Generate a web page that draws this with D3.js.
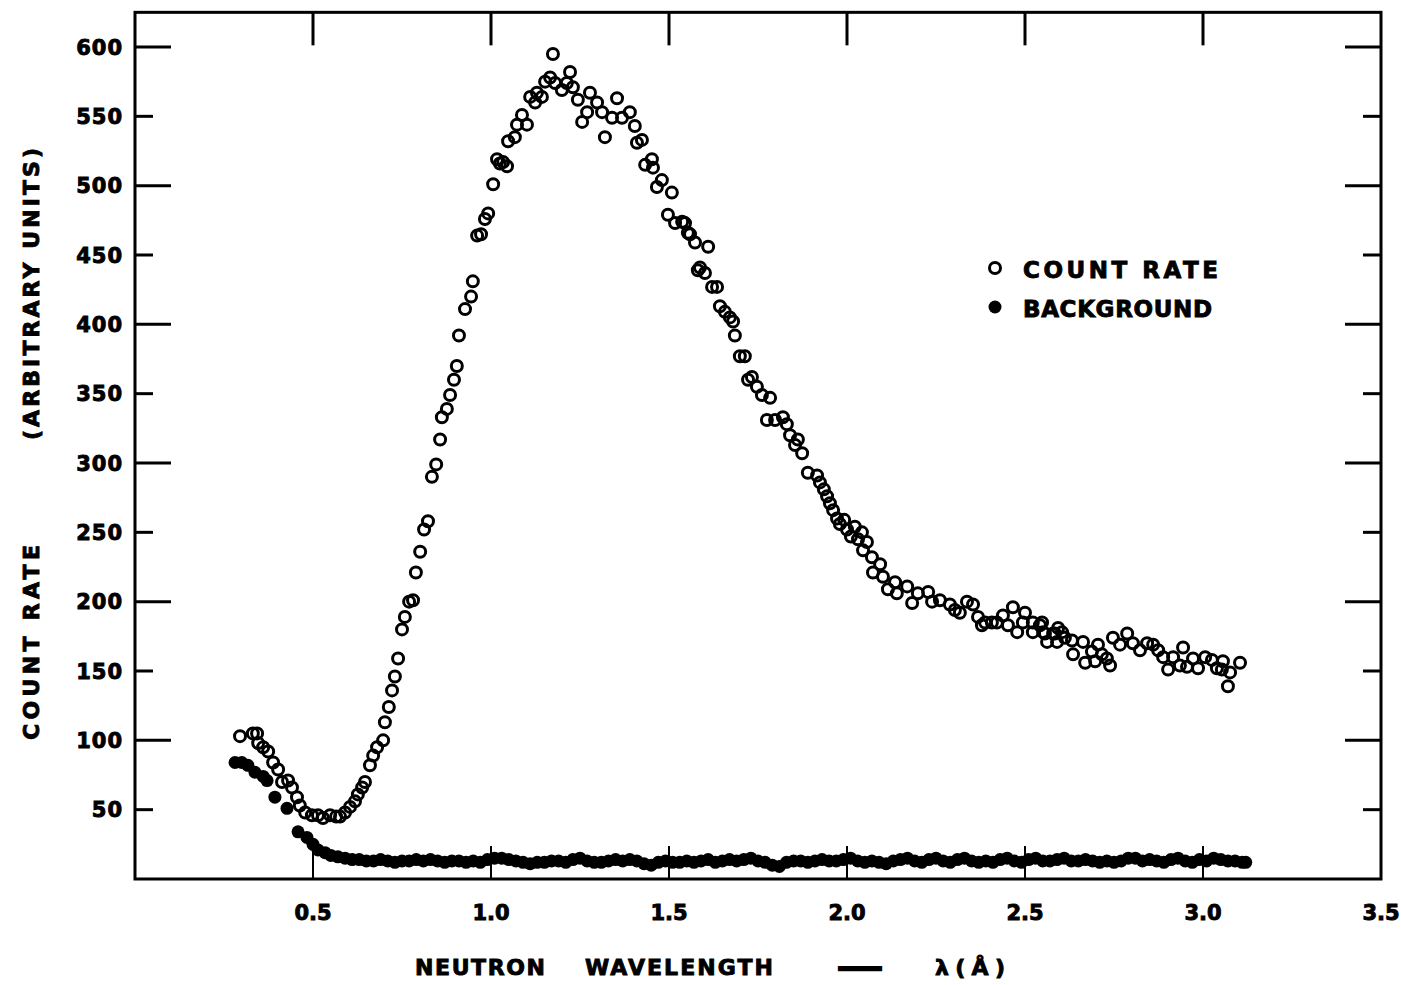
<!DOCTYPE html>
<html>
<head>
<meta charset="utf-8">
<script src="https://cdn.jsdelivr.net/npm/d3@7"></script>
<style>
  body { margin: 0; background: #fff; }
  text { font-family: 'DejaVu Sans', sans-serif; font-weight: bold; fill: #000; stroke: #000; stroke-width: 0.9px; }
</style>
</head>
<body>
<script>
const width = 1401;
const height = 985;

// open circles: [wavelength (A), count rate]
const countRate = [
  [0.295,103],[0.331,105],[0.343,105],[0.346,98],[0.36,95],[0.374,92],[0.388,84],[0.402,79],
  [0.413,70],[0.43,71],[0.441,66],[0.455,59],[0.463,53],[0.478,48],[0.497,46],[0.514,46],
  [0.528,44],[0.548,46],[0.565,45],[0.576,45],[0.59,48],[0.604,52],[0.618,56],[0.626,61],
  [0.638,66],[0.646,70],[0.66,82],[0.669,89],[0.68,95],[0.697,100],[0.702,113],[0.713,124],
  [0.722,136],[0.73,146],[0.739,159],[0.75,180],[0.758,189],[0.77,200],[0.781,201],[0.789,221],
  [0.801,236],[0.812,252],[0.823,258],[0.834,290],[0.846,299],[0.857,317],[0.862,333],[0.876,339],
  [0.885,349],[0.896,360],[0.904,370],[0.91,392],[0.927,411],[0.944,420],[0.949,431],[0.961,464],
  [0.972,465],[0.983,476],[0.992,480],[1.006,501],[1.017,519],[1.025,516],[1.034,517],[1.045,514],
  [1.048,532],[1.067,535],[1.073,544],[1.087,551],[1.101,544],[1.11,564],[1.124,560],[1.129,567],
  [1.143,564],[1.152,575],[1.166,578],[1.174,595],[1.18,574],[1.199,569],[1.213,574],[1.222,582],
  [1.23,571],[1.244,562],[1.256,546],[1.27,553],[1.278,567],[1.298,560],[1.312,553],[1.32,535],
  [1.34,549],[1.354,563],[1.368,549],[1.39,553],[1.404,543],[1.41,531],[1.424,533],[1.433,515],
  [1.452,519],[1.455,513],[1.466,499],[1.48,504],[1.497,479],[1.508,495],[1.517,473],[1.537,474],
  [1.545,473],[1.553,466],[1.559,465],[1.573,459],[1.581,439],[1.587,441],[1.601,437],[1.61,456],
  [1.621,427],[1.635,427],[1.643,413],[1.657,409],[1.671,405],[1.68,402],[1.685,392],[1.699,377],
  [1.713,377],[1.722,360],[1.733,362],[1.747,355],[1.761,349],[1.775,331],[1.784,347],[1.798,331],
  [1.82,333],[1.831,328],[1.84,320],[1.854,313],[1.862,317],[1.874,307],[1.89,293],[1.916,291],
  [1.924,286],[1.935,281],[1.944,276],[1.952,271],[1.961,266],[1.972,260],[1.98,256],[1.992,259],
  [2.0,252],[2.011,247],[2.022,254],[2.031,245],[2.042,250],[2.056,243],[2.045,237],[2.07,232],
  [2.093,227],[2.073,221],[2.101,218],[2.115,209],[2.135,214],[2.14,206],[2.169,211],[2.183,199],
  [2.199,206],[2.228,207],[2.239,200],[2.261,201],[2.289,198],[2.303,194],[2.317,192],[2.337,200],
  [2.354,198],[2.368,189],[2.388,185],[2.379,183],[2.407,185],[2.421,185],[2.438,190],[2.452,183],
  [2.466,196],[2.478,178],[2.5,192],[2.494,185],[2.522,185],[2.542,183],[2.522,178],[2.548,185],
  [2.551,178],[2.556,177],[2.562,171],[2.579,177],[2.584,177],[2.59,171],[2.593,181],[2.604,178],
  [2.612,174],[2.632,172],[2.635,162],[2.663,171],[2.669,156],[2.688,164],[2.697,157],[2.705,169],
  [2.716,162],[2.73,159],[2.739,154],[2.747,174],[2.767,169],[2.787,177],[2.803,170],[2.823,165],
  [2.843,170],[2.86,169],[2.874,165],[2.888,160],[2.902,151],[2.916,160],[2.935,154],[2.944,167],
  [2.955,153],[2.972,159],[2.986,152],[3.006,160],[3.025,158],[3.039,152],[3.053,151],[3.056,157],
  [3.07,139],[3.076,149],[3.104,156]
];

// filled circles: [wavelength (A), background]
const background = [
  [0.281,84],[0.3,84],[0.317,82],[0.337,77],[0.36,74],[0.371,71],[0.393,59],[0.427,51],
  [0.458,34],[0.483,30],[0.5,25],[0.514,21],[0.534,19],[0.55,17],[0.57,16],[0.59,15],
  [0.61,14],[0.63,14],[0.65,13],[0.67,13],[0.69,14],[0.71,13],[0.73,12],[0.75,13],
  [0.77,13],[0.79,14],[0.81,13],[0.83,14],[0.85,13],[0.87,12],[0.89,13],[0.91,13],
  [0.93,12],[0.95,13],[0.97,12],[0.99,14],[1.01,15],[1.03,15],[1.05,14],[1.07,13],
  [1.09,12],[1.11,11],[1.13,12],[1.15,12],[1.17,13],[1.19,13],[1.21,12],[1.23,14],
  [1.25,15],[1.27,13],[1.29,12],[1.31,12],[1.33,13],[1.35,14],[1.37,13],[1.39,14],
  [1.41,13],[1.43,11],[1.45,10],[1.47,12],[1.49,13],[1.51,12],[1.53,12],[1.55,13],
  [1.57,12],[1.59,13],[1.61,14],[1.63,12],[1.65,13],[1.67,14],[1.69,13],[1.71,14],
  [1.73,15],[1.75,13],[1.77,12],[1.79,10],[1.81,9],[1.83,12],[1.85,13],[1.87,13],
  [1.89,12],[1.91,13],[1.93,14],[1.95,13],[1.97,13],[1.99,14],[2.01,15],[2.03,13],
  [2.05,12],[2.07,13],[2.09,12],[2.11,11],[2.13,13],[2.15,14],[2.17,15],[2.19,13],
  [2.21,12],[2.23,14],[2.25,15],[2.27,13],[2.29,12],[2.31,14],[2.33,15],[2.35,13],
  [2.37,12],[2.39,13],[2.41,12],[2.43,14],[2.45,15],[2.47,13],[2.49,12],[2.51,14],
  [2.53,15],[2.55,13],[2.57,13],[2.59,14],[2.61,15],[2.63,13],[2.65,13],[2.67,14],
  [2.69,13],[2.71,12],[2.73,13],[2.75,12],[2.77,13],[2.79,15],[2.81,15],[2.83,13],
  [2.85,14],[2.87,13],[2.89,12],[2.91,14],[2.93,15],[2.95,13],[2.97,12],[2.99,14],
  [3.01,13],[3.03,15],[3.05,14],[3.07,13],[3.09,13],[3.11,12],[3.12,12]
];

const xTicks = [0.5, 1.0, 1.5, 2.0, 2.5, 3.0, 3.5];
const xTickLabels = ['0.5', '1.0', '1.5', '2.0', '2.5', '3.0', '3.5'];
const yTicks = [50, 100, 150, 200, 250, 300, 350, 400, 450, 500, 550, 600];
const yTickLabels = ['50', '100', '150', '200', '250', '300', '350', '400', '450', '500', '550', '600'];
const legendLabels = ['COUNT RATE', 'BACKGROUND'];

const x = d3.scaleLinear().domain([0, 3.5]).range([135, 1381]);
const y = d3.scaleLinear().domain([0, 600]).range([879, 47]);
const yTop = 625;

const svg = d3.select('body').append('svg')
    .attr('width', width)
    .attr('height', height);

svg.append('rect')
    .attr('width', width).attr('height', height).attr('fill', '#fff');

// frame
svg.append('rect')
    .attr('x', x(0)).attr('y', y(yTop))
    .attr('width', x(3.5) - x(0)).attr('height', y(0) - y(yTop))
    .attr('fill', 'none').attr('stroke', '#000').attr('stroke-width', 3);

const tickLen = v => v % 100 === 0 ? 36 : 18;

// left + right inward ticks
svg.append('g').selectAll('line')
    .data(yTicks)
    .join('line')
    .attr('x1', x(0)).attr('x2', d => x(0) + tickLen(d))
    .attr('y1', d => y(d)).attr('y2', d => y(d))
    .attr('stroke', '#000').attr('stroke-width', 3);

svg.append('g').selectAll('line')
    .data(yTicks)
    .join('line')
    .attr('x1', x(3.5)).attr('x2', d => x(3.5) - tickLen(d))
    .attr('y1', d => y(d)).attr('y2', d => y(d))
    .attr('stroke', '#000').attr('stroke-width', 3);

// top + bottom inward ticks
const innerX = xTicks.filter(d => d < 3.5);
svg.append('g').selectAll('line')
    .data(innerX)
    .join('line')
    .attr('x1', d => x(d)).attr('x2', d => x(d))
    .attr('y1', y(yTop)).attr('y2', y(yTop) + 33)
    .attr('stroke', '#000').attr('stroke-width', 3);

svg.append('g').selectAll('line')
    .data(innerX)
    .join('line')
    .attr('x1', d => x(d)).attr('x2', d => x(d))
    .attr('y1', y(0)).attr('y2', y(0) - 33)
    .attr('stroke', '#000').attr('stroke-width', 2);

// tick labels
svg.append('g').selectAll('text')
    .data(yTicks)
    .join('text')
    .attr('x', x(0) - 12)
    .attr('y', d => y(d) + 7.5)
    .attr('text-anchor', 'end')
    .attr('font-size', 21)
    .attr('letter-spacing', 1)
    .text((d, i) => yTickLabels[i]);

svg.append('g').selectAll('text')
    .data(xTicks)
    .join('text')
    .attr('x', d => x(d))
    .attr('y', 920)
    .attr('text-anchor', 'middle')
    .attr('font-size', 21)
    .text((d, i) => xTickLabels[i]);

// axis titles
const xTitle = svg.append('g').attr('font-size', 22);
xTitle.append('text').attr('x', 415).attr('y', 975)
    .attr('textLength', 130).attr('lengthAdjust', 'spacing').text('NEUTRON');
xTitle.append('text').attr('x', 585).attr('y', 975)
    .attr('textLength', 188).attr('lengthAdjust', 'spacing').text('WAVELENGTH');
xTitle.append('text').attr('x', 838).attr('y', 975)
    .attr('textLength', 44).attr('lengthAdjust', 'spacingAndGlyphs')
    .style('stroke-width', '2.5px').text('—');
xTitle.append('text').attr('x', 935).attr('y', 975)
    .attr('textLength', 70).attr('lengthAdjust', 'spacing').text('λ(Å)');

const yTitle = svg.append('g').attr('font-size', 22);
yTitle.append('text')
    .attr('transform', 'translate(39,740) rotate(-90)')
    .attr('textLength', 195).attr('lengthAdjust', 'spacing')
    .text('COUNT RATE');
yTitle.append('text')
    .attr('transform', 'translate(39,440) rotate(-90)')
    .attr('textLength', 292).attr('lengthAdjust', 'spacing')
    .text('(ARBITRARY UNITS)');

// points
svg.append('g').selectAll('circle')
    .data(background)
    .join('circle')
    .attr('cx', d => x(d[0]))
    .attr('cy', d => y(d[1]))
    .attr('r', 6.5)
    .attr('fill', '#000');

svg.append('g').selectAll('circle')
    .data(countRate)
    .join('circle')
    .attr('cx', d => x(d[0]))
    .attr('cy', d => y(d[1]))
    .attr('r', 5.5)
    .attr('fill', 'none')
    .attr('stroke', '#000')
    .attr('stroke-width', 3);

// legend
const legend = svg.append('g');
legend.append('circle').attr('cx', 995).attr('cy', 268).attr('r', 5.5)
    .attr('fill', 'none').attr('stroke', '#000').attr('stroke-width', 3);
legend.append('circle').attr('cx', 995).attr('cy', 307).attr('r', 6.5).attr('fill', '#000');
legend.selectAll('text')
    .data(legendLabels)
    .join('text')
    .attr('x', 1023)
    .attr('y', (d, i) => 278 + i * 39)
    .attr('font-size', 23)
    .attr('textLength', (d, i) => i === 0 ? 195 : 189)
    .attr('lengthAdjust', 'spacing')
    .text(d => d);
</script>
</body>
</html>
